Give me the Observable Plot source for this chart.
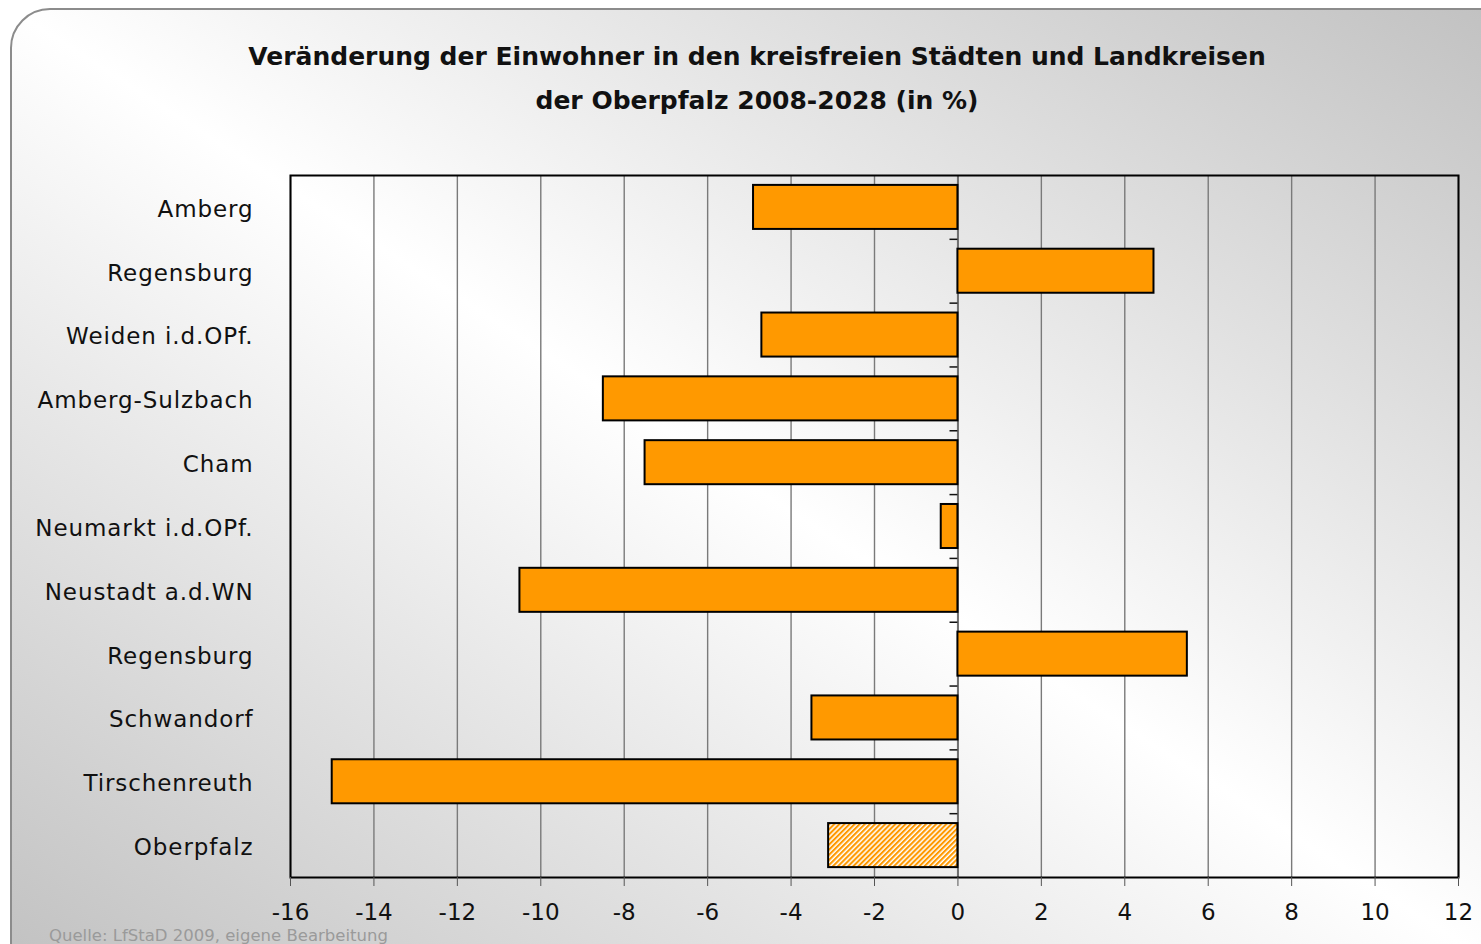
<!DOCTYPE html>
<html>
<head>
<meta charset="utf-8">
<script src="https://cdn.jsdelivr.net/npm/d3@7"></script>
<script src="https://cdn.jsdelivr.net/npm/@observablehq/plot@0.6"></script>
<style>
  html, body { margin: 0; padding: 0; width: 1481px; height: 944px; overflow: hidden; background: #ffffff; }
  #panel { position: absolute; left: 10px; top: 8px; width: 1520px; height: 980px; box-sizing: border-box;
           border: 2px solid #8c8c8c; border-radius: 40px;
           background: linear-gradient(to top right, #c0c0c0 0%, #ffffff 50%, #c0c0c0 100%); }
  #title { position: absolute; left: 157px; top: 35px; width: 1200px; text-align: center;
           font-family: "DejaVu Sans", Verdana, sans-serif; font-weight: bold; font-size: 25px; line-height: 44px; color: #111; }
  #chart { position: absolute; left: 0; top: 150px; }
  #caption { position: absolute; left: 49px; top: 928px; font-family: "DejaVu Sans", Verdana, sans-serif;
             font-size: 16.5px; line-height: 16px; color: #9a9a9a; white-space: nowrap; }
  .ylab text { letter-spacing: 0.9px; }
</style>
</head>
<body>
<div id="panel"></div>
<div id="title">Veränderung der Einwohner in den kreisfreien Städten und Landkreisen<br>der Oberpfalz 2008-2028 (in %)</div>
<div id="chart"></div>
<div id="caption">Quelle: LfStaD 2009, eigene Bearbeitung</div>
<script>
const regions = ["Amberg", "Regensburg", "Weiden i.d.OPf.", "Amberg-Sulzbach", "Cham", "Neumarkt i.d.OPf.",
                 "Neustadt a.d.WN", "Regensburg", "Schwandorf", "Tirschenreuth", "Oberpfalz"];
const changes = [-4.9, 4.7, -4.7, -8.5, -7.5, -0.4, -10.5, 5.5, -3.5, -15.0, -3.1];
const totalRegion = "Oberpfalz";
const xTicks = [-16, -14, -12, -10, -8, -6, -4, -2, 0, 2, 4, 6, 8, 10, 12];

const idx = d3.range(regions.length);
const rows = idx.map(i => ({i, name: regions[i], v: changes[i], total: regions[i] === totalRegion}));

const H = 794, mT = 25, mB = 67;
const step = (H - mT - mB) / regions.length;

const plot = Plot.plot({
  width: 1481,
  height: H,
  marginLeft: 290,
  marginRight: 23,
  marginTop: mT,
  marginBottom: mB,
  style: {background: "transparent", fontFamily: "'DejaVu Sans', Verdana, sans-serif", fontSize: "23px", color: "#111", overflow: "visible"},
  x: {domain: [xTicks[0], xTicks[xTicks.length - 1]], label: null},
  y: {domain: idx, paddingInner: 0.31, paddingOuter: 0.155, round: false, label: null},
  marks: [
    Plot.gridX(xTicks, {stroke: "#7a7a7a", strokeOpacity: 1, strokeWidth: 1.4}),
    Plot.ruleX([0], {stroke: "#707070", strokeWidth: 2}),
    Plot.ruleY(idx.slice(1), {y: d => d, x1: -0.19, x2: 0, dy: -step / 2, stroke: "#111", strokeWidth: 1.5}),
    Plot.barX(rows.filter(d => !d.total), {y: "i", x: "v", fill: "#ff9900", stroke: "#000", strokeWidth: 2}),
    Plot.barX(rows.filter(d => d.total), {y: "i", x: "v", fill: "url(#hatch)", stroke: "#000", strokeWidth: 2}),
    Plot.frame({stroke: "#000", strokeWidth: 2}),
    Plot.axisX({ticks: xTicks, tickSize: 9, tickPadding: 17, tickFormat: d => String(d), stroke: "#555"}),
    Plot.axisY({tickSize: 0, tickPadding: 37, dy: 2, tickFormat: i => regions[i], className: "ylab"})
  ]
});

const ns = "http://www.w3.org/2000/svg";
const defs = document.createElementNS(ns, "defs");
defs.innerHTML = '<pattern id="hatch" patternUnits="userSpaceOnUse" width="3.6" height="3.6" patternTransform="rotate(45)">' +
  '<rect width="3.6" height="3.6" fill="#ffffff"/><rect width="2.1" height="3.6" fill="#ff9900"/></pattern>';
plot.insertBefore(defs, plot.firstChild);
document.getElementById("chart").appendChild(plot);
</script>
</body>
</html>
